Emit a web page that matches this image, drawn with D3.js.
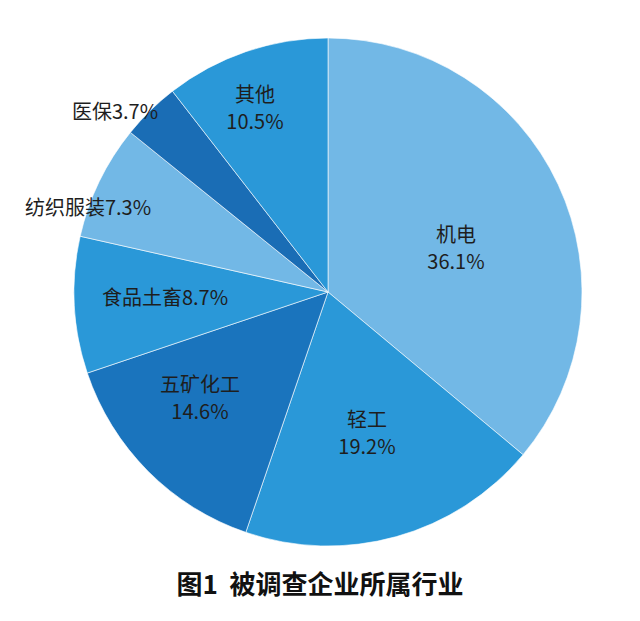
<!DOCTYPE html><html><head><meta charset="utf-8"><script src="https://cdn.jsdelivr.net/npm/d3@7"></script>
<style>body{margin:0;background:#fff}</style></head><body><svg id="c" width="640" height="621"></svg>
<script>
const categories=["机电","轻工","五矿化工","食品土畜","纺织服装","医保","其他"];
const values=[36.1,19.2,14.6,8.7,7.3,3.7,10.5];
const colors=["#72b8e6","#2a98d8","#1a74bd","#2a98d8","#72b8e6","#1a6db5","#2a98d8"];
const labelLines=[["机电","36.1%"],["轻工","19.2%"],["五矿化工","14.6%"],["食品土畜8.7%"],["纺织服装7.3%"],["医保3.7%"],["其他","10.5%"]];
const labelPos=[[456,250],[367,435],[200,400],[165,298],[88,208],[115,112],[255,110]];
const svg=d3.select("#c"),cx=328,cy=292,r=254;
const pie=d3.pie().sort(null)(values);
const arc=d3.arc().innerRadius(0).outerRadius(r);
const g=svg.append("g").attr("transform",`translate(${cx},${cy})`);
g.selectAll("path").data(pie).join("path").attr("d",arc).attr("fill",(d,i)=>colors[i]).attr("stroke","#fff").attr("stroke-width",0.6);
labelLines.forEach((ls,i)=>{
  const t=svg.append("text").attr("x",labelPos[i][0]).attr("y",labelPos[i][1]).attr("text-anchor","middle")
    .attr("font-family","'Noto Sans CJK SC',sans-serif").attr("font-size",20).attr("fill","#1e1e1e");
  ls.forEach((l,j)=>t.append("tspan").attr("x",labelPos[i][0]).attr("dy",j==0?(ls.length>1?-8:7):27).text(l));
});
svg.append("text").attr("x",320).attr("y",594).attr("text-anchor","middle").attr("font-family","'Noto Sans CJK SC',sans-serif")
 .attr("font-weight","bold").attr("font-size",26).attr("fill","#111").attr("xml:space","preserve").text("图1  被调查企业所属行业");
</script></body></html>
